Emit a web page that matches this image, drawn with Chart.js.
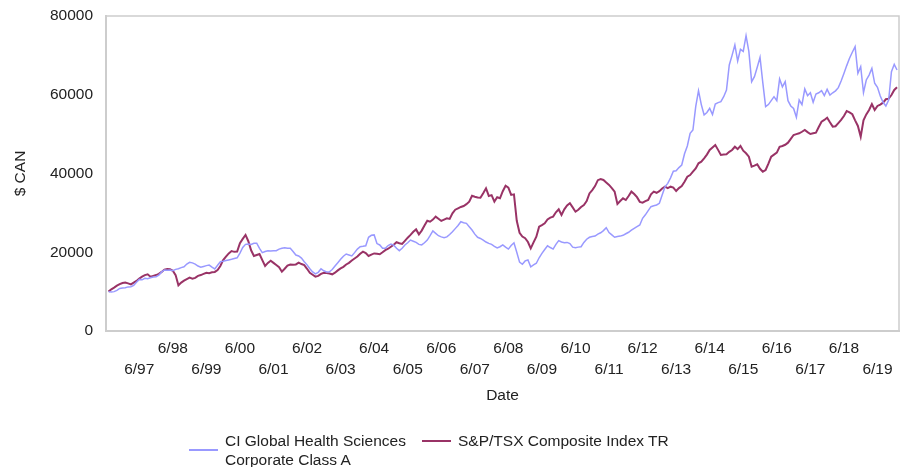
<!DOCTYPE html>
<html>
<head>
<meta charset="utf-8">
<title>Growth of $10,000</title>
<script src="https://cdn.jsdelivr.net/npm/chart.js@4.4.1/dist/chart.umd.min.js"></script>
<style>
  html, body { margin: 0; padding: 0; background: #fff; }
  #wrap { position: relative; width: 907px; height: 467px; }
  #legend { position: absolute; left: 0; top: 0; width: 907px; height: 467px; pointer-events: none;
            font: 15.5px "Liberation Sans", Arial, sans-serif; color: #222; line-height: 19px; }
  .item { position: absolute; top: 431px; display: flex; align-items: center; }
  .item .swatch { width: 29px; height: 2px; margin-right: 7px; }
  .item.first { left: 189px; }
  .item.first .text { width: 190px; }
  .item.second { left: 422px; }
</style>
</head>
<body>
<div id="wrap">
  <canvas id="growthChart" width="907" height="467"></canvas>
  <div id="legend"></div>
</div>
<script>
// monthly values, July 1996 .. January 2020
const fundLabel = 'CI Global Health Sciences Corporate Class A';
const indexLabel = 'S&P/TSX Composite Index TR';

const fund = [
  10000, 9900, 10000, 10300, 10800, 10900, 11000, 11200, 11250, 11600, 12400, 13100,
  13000, 13400, 13300, 13500, 13700, 13800, 14200, 15000, 15500, 15400, 15500, 15300,
  15650, 15800, 16100, 16300, 17000, 17450, 17300, 17000, 16500, 16200, 16400, 16600,
  16750, 16200, 15750, 16700, 17600, 17700, 17900, 18050, 18200, 18400, 18600, 19800,
  21200, 22000, 22100, 22000, 22300, 22300, 21000, 19900, 20200, 20400, 20300, 20400,
  20400, 20800, 21000, 21150, 21000, 21000, 20200, 19300, 19050, 18500, 17600, 16800,
  15800, 15000, 14500, 14900, 15800, 15300, 15000, 15050, 15600, 16500, 17350, 18200,
  19000, 19550, 19300, 19050, 19900, 20800, 21400, 21500, 21650, 23800, 24300, 24400,
  22200, 21850, 21000, 21000, 21700, 22100, 21800, 21000, 20400, 21000, 21850, 22400,
  23100, 22800, 22500, 22000, 21850, 22400, 23100, 24200, 25400, 24800, 24200, 23900,
  23700, 23900, 24500, 25200, 26000, 26800, 27750, 27500, 27350, 26500, 25650, 24600,
  23800, 23500, 23100, 22600, 22250, 22000, 21500, 21100, 21400, 21850, 21300, 20800,
  21700, 22400, 20000, 17500, 16950, 17800, 18050, 16300, 16800, 17200, 18600, 19700,
  20700, 21650, 21200, 20800, 22000, 22950, 22600, 22400, 22500, 22200, 21300, 21150,
  21300, 21400, 22500, 23300, 23800, 24000, 24100, 24600, 24950, 25500, 26250, 25000,
  24400, 23800, 24000, 24100, 24300, 24700, 25070, 25600, 26080, 26500, 26920, 28620,
  29500, 30560, 31570, 31800, 32000, 32430, 34540, 36600, 37500, 38900, 40600, 40710,
  41500, 42160, 45000, 47000, 50210, 51050, 56970, 61030, 57500, 54860, 55500, 56550,
  55000, 57650, 58000, 58240, 59500, 61210, 67560, 70000, 72640, 68580, 71540, 71000,
  75000, 71000, 63320, 64590, 67000, 69510, 63000, 56970, 57500, 58500, 59510, 58500,
  64000, 62000, 63320, 58500, 57150, 56500, 54270, 58670, 57500, 61460, 59770, 60500,
  58090, 60190, 60500, 61030, 59800, 61380, 59940, 60500, 61000, 61800, 63500, 65400,
  67400, 69260, 70800, 72200, 65450, 67130, 60520, 63750, 65000, 66720, 62910, 61890,
  59690, 58090, 57150, 58670, 65860, 67730, 66290
];

const tsx = [
  10000, 10600, 11000, 11500, 11900, 12200, 12300, 12100, 11850, 12300, 12700, 13300,
  13800, 14200, 14400, 13800, 14000, 14200, 14500, 15000, 15600, 15750, 15700, 15300,
  14200, 11600, 12300, 12800, 13200, 13550, 13300, 13500, 14000, 14200, 14500, 14800,
  14700, 14900, 15000, 15500, 16500, 18000, 18900, 19700, 20300, 20100, 20150, 22300,
  23400, 24400, 22800, 20500, 19050, 19300, 19550, 18000, 16500, 17300, 17850, 17300,
  16750, 16200, 15050, 15800, 16600, 16900, 16800, 16900, 17350, 17000, 16750, 15800,
  14800, 14300, 13800, 14000, 14500, 14800, 14700, 14600, 14400, 14800, 15400, 15900,
  16300, 16900, 17300, 17900, 18400, 18900, 19600, 20150, 19800, 19050, 19400, 19700,
  19600, 19500, 20000, 20550, 20900, 21400, 21900, 22550, 22300, 22100, 22900, 23700,
  24400, 25200, 25800, 24550, 25500, 26800, 28000, 27750, 28300, 29050, 28500, 27950,
  28300, 28600, 28450, 29900, 30800, 31150, 31500, 31750, 32200, 32850, 34350, 34100,
  33900, 33850, 35000, 36250, 34300, 34500, 32850, 33950, 33700, 35500, 36900, 36400,
  34550, 34700, 28000, 24950, 24000, 23550, 22600, 21000, 22500, 23950, 26500, 26900,
  27350, 28350, 28800, 29050, 30150, 30900, 29450, 30900, 31900, 32450, 31400, 30300,
  30800, 31500, 32000, 33000, 34950, 35800, 36800, 38300, 38600, 38350, 37700, 37100,
  36300, 35400, 32250, 33000, 33700, 33270, 34300, 35400, 34800, 34000, 32800, 32600,
  33000, 33300, 34700, 35400, 35100, 35500, 36200, 36650, 36300, 36650, 36400, 35550,
  36300, 36800, 37900, 39200, 39600, 40450, 41300, 42600, 43000, 43850, 44800, 45970,
  46600, 47240, 46000, 44700, 44800, 44880, 45500, 45970, 46800, 46200, 47000, 45800,
  45130, 44270, 41730, 42000, 42340, 41200, 40460, 40890, 42500, 44270, 44800, 45290,
  46800, 47000, 47300, 47830, 48800, 49780, 50000, 50210, 50600, 51050, 50500, 50040,
  50200, 50370, 51800, 53160, 53600, 54180, 53000, 51900, 52000, 52800, 53600, 54600,
  55880, 55500, 55040, 53500, 52070, 49350, 53500, 55000, 56130, 57650, 56130, 57150,
  57500, 57990, 58850, 59000, 59940, 61210, 61890
];

// June of each year gets a tick (index 11 = 6/97)
const tickLabels = ['6/97', '6/98', '6/99', '6/00', '6/01', '6/02', '6/03', '6/04', '6/05', '6/06', '6/07', '6/08',
                    '6/09', '6/10', '6/11', '6/12', '6/13', '6/14', '6/15', '6/16', '6/17', '6/18', '6/19'];
const tickMonths = tickLabels.map((_, i) => 11 + i * 12);
const yTicks = [0, 20000, 40000, 60000, 80000];

const toPoints = arr => arr.map((v, i) => ({ x: i, y: v }));

Chart.defaults.font.family = '"Liberation Sans", Arial, sans-serif';
Chart.defaults.font.size = 15.5;
Chart.defaults.color = '#222';

const frame = {
  id: 'frame',
  afterDraw(chart) {
    const { ctx, chartArea: a } = chart;
    ctx.save();
    ctx.strokeStyle = '#cdcdcd';
    ctx.lineWidth = 1.5;
    ctx.beginPath();
    ctx.moveTo(a.left, a.top);
    ctx.lineTo(a.right, a.top);
    ctx.lineTo(a.right, a.bottom);
    ctx.stroke();
    ctx.restore();
  }
};

const chart = new Chart('growthChart', {
  type: 'line',
  data: {
    datasets: [
      {
        label: fundLabel,
        data: toPoints(fund),
        borderColor: '#9999ff',
        borderWidth: 1.5
      },
      {
        label: indexLabel,
        data: toPoints(tsx),
        borderColor: '#993366',
        borderWidth: 2
      }
    ]
  },
  options: {
    responsive: false,
    animation: false,
    layout: { padding: { left: 0, right: 8, top: 16, bottom: 55 } },
    elements: { point: { radius: 0 }, line: { tension: 0 } },
    plugins: { legend: { display: false }, tooltip: { enabled: false } },
    scales: {
      x: {
        type: 'linear',
        min: -0.9,
        max: 282.7,
        grid: { display: false, drawTicks: false },
        border: { color: '#cdcdcd', width: 2 },
        afterBuildTicks: scale => { scale.ticks = tickMonths.map(v => ({ value: v })); },
        afterFit: scale => { scale.height = 81; },
        ticks: {
          autoSkip: false,
          maxRotation: 0,
          padding: 7,
          font: { lineHeight: 1.35 },
          callback: (value, index) => index % 2 === 0 ? ['', tickLabels[index]] : tickLabels[index]
        },
        title: { display: true, text: 'Date', padding: { top: 0, bottom: 7 } }
      },
      y: {
        min: 0,
        max: 80000,
        grid: { display: false, drawTicks: false },
        border: { color: '#cdcdcd', width: 2 },
        afterBuildTicks: scale => { scale.ticks = yTicks.map(v => ({ value: v })); },
        afterFit: scale => {
          scale.width = 106;
          scale.paddingTop = 0;
          scale.paddingBottom = 0;
        },
        ticks: { padding: 13, callback: v => String(v) },
        title: { display: true, text: '$ CAN', padding: { top: 11, bottom: 0 } }
      }
    }
  },
  plugins: [frame]
});

// legend below the plot
const legend = document.getElementById('legend');
chart.data.datasets.forEach((ds, i) => {
  const item = document.createElement('div');
  item.className = 'item ' + (i === 0 ? 'first' : 'second');
  const sw = document.createElement('span');
  sw.className = 'swatch';
  sw.style.background = ds.borderColor;
  const txt = document.createElement('span');
  txt.className = 'text';
  txt.textContent = ds.label;
  item.appendChild(sw);
  item.appendChild(txt);
  legend.appendChild(item);
});
</script>
</body>
</html>
